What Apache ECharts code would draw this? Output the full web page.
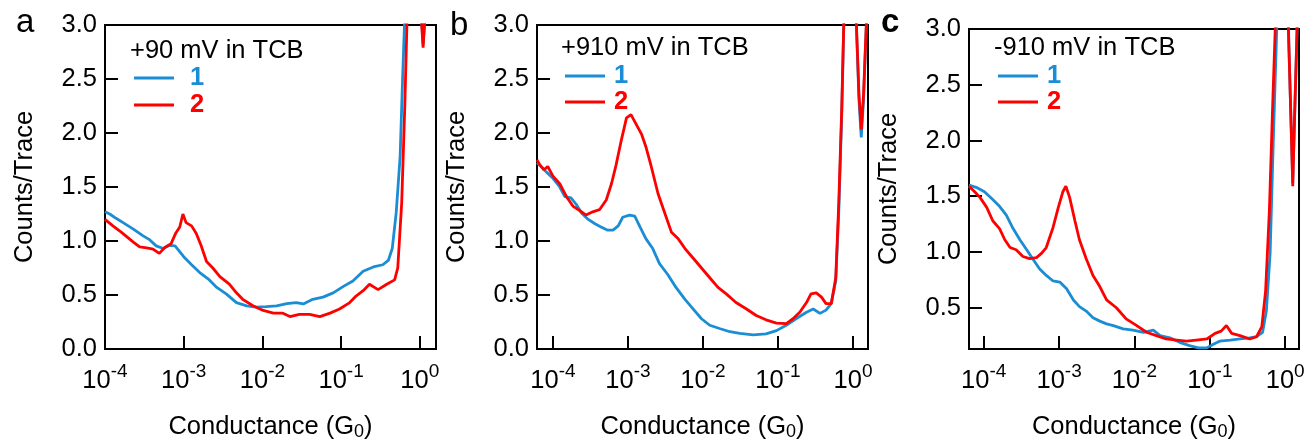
<!DOCTYPE html>
<html>
<head>
<meta charset="utf-8">
<title>Conductance histograms</title>
<script src="https://cdn.jsdelivr.net/npm/echarts@6/dist/echarts.min.js"></script>
<style>
  html, body { margin: 0; padding: 0; background: #fff; }
  #chart { width: 1308px; height: 446px; }
</style>
</head>
<body>
<div id="chart"></div>
<script>
// x values are log10(G / G0), y values are counts per trace
// values past 3.0 sit above the frame and get clipped, like the original plot

// panel a, +90 mV
const aBlueLogG = [-4.0, -3.94, -3.86, -3.77, -3.64, -3.52, -3.43, -3.35, -3.26, -3.18, -3.11, -3.0, -2.9, -2.8, -2.69, -2.58, -2.46, -2.33, -2.2, -2.08, -1.95, -1.82, -1.69, -1.57, -1.48, -1.36, -1.23, -1.1, -0.97, -0.85, -0.72, -0.59, -0.47, -0.4, -0.35, -0.3, -0.25, -0.22, -0.19, -0.1, 0.0, 0.042, 0.085, 0.206]
const aBlueCounts = [1.27, 1.25, 1.21, 1.17, 1.11, 1.05, 1.01, 0.955, 0.93, 0.96, 0.955, 0.855, 0.78, 0.71, 0.65, 0.57, 0.51, 0.43, 0.40, 0.387, 0.393, 0.40, 0.42, 0.43, 0.417, 0.46, 0.48, 0.52, 0.58, 0.63, 0.72, 0.76, 0.78, 0.82, 0.93, 1.26, 1.78, 2.47, 3.1, 5.0, 3.3, 2.82, 3.3, 5.0]
const aRedLogG = [-4.0, -3.9, -3.79, -3.64, -3.56, -3.47, -3.39, -3.31, -3.24, -3.16, -3.1, -3.05, -3.01, -2.97, -2.9, -2.84, -2.78, -2.71, -2.63, -2.54, -2.42, -2.33, -2.25, -2.12, -1.99, -1.86, -1.74, -1.65, -1.53, -1.4, -1.27, -1.14, -1.02, -0.89, -0.81, -0.72, -0.64, -0.53, -0.42, -0.32, -0.28, -0.23, -0.19, -0.16, -0.1, 0.0, 0.042, 0.085, 0.206]
const aRedCounts = [1.2, 1.14, 1.08, 0.99, 0.945, 0.937, 0.925, 0.885, 0.94, 0.976, 1.075, 1.13, 1.25, 1.17, 1.14, 1.07, 0.96, 0.81, 0.75, 0.67, 0.6, 0.52, 0.46, 0.4, 0.357, 0.332, 0.332, 0.3, 0.32, 0.32, 0.3, 0.332, 0.37, 0.43, 0.49, 0.54, 0.6, 0.55, 0.6, 0.64, 0.75, 1.35, 2.26, 3.1, 5.0, 3.3, 2.79, 3.3, 5.0]

// panel b, +910 mV
const bBlueLogG = [-4.213, -4.16, -4.09, -4.0, -3.91, -3.84, -3.76, -3.69, -3.62, -3.53, -3.44, -3.36, -3.27, -3.2, -3.13, -3.07, -2.98, -2.91, -2.84, -2.76, -2.67, -2.58, -2.47, -2.36, -2.24, -2.13, -2.02, -1.91, -1.78, -1.64, -1.51, -1.33, -1.16, -1.02, -0.89, -0.76, -0.62, -0.53, -0.44, -0.36, -0.29, -0.23, -0.19, -0.15, -0.12, -0.06, 0.03, 0.08, 0.11, 0.14, 0.2]
const bBlueCounts = [1.725, 1.69, 1.64, 1.58, 1.5, 1.41, 1.4, 1.34, 1.26, 1.2, 1.16, 1.13, 1.1, 1.1, 1.14, 1.22, 1.24, 1.23, 1.13, 1.02, 0.93, 0.79, 0.69, 0.57, 0.46, 0.37, 0.28, 0.22, 0.19, 0.16, 0.145, 0.13, 0.14, 0.17, 0.22, 0.28, 0.34, 0.37, 0.33, 0.36, 0.42, 0.63, 1.26, 2.17, 3.1, 5.0, 3.3, 2.3, 1.96, 2.3, 3.4]
const bRedLogG = [-4.213, -4.17, -4.12, -4.07, -4.0, -3.91, -3.82, -3.73, -3.64, -3.56, -3.47, -3.38, -3.29, -3.22, -3.16, -3.09, -3.02, -2.96, -2.89, -2.82, -2.76, -2.69, -2.6, -2.51, -2.42, -2.33, -2.24, -2.13, -2.02, -1.91, -1.8, -1.69, -1.56, -1.42, -1.29, -1.16, -1.02, -0.89, -0.8, -0.71, -0.62, -0.56, -0.49, -0.42, -0.36, -0.29, -0.23, -0.19, -0.15, -0.12, -0.06, 0.03, 0.08, 0.11, 0.14, 0.2]
const bRedCounts = [1.75, 1.7, 1.66, 1.69, 1.6, 1.53, 1.41, 1.32, 1.28, 1.24, 1.27, 1.29, 1.38, 1.53, 1.7, 1.93, 2.14, 2.17, 2.08, 1.99, 1.87, 1.69, 1.44, 1.26, 1.08, 1.02, 0.93, 0.84, 0.75, 0.66, 0.57, 0.51, 0.43, 0.37, 0.31, 0.27, 0.24, 0.235, 0.28, 0.34, 0.43, 0.51, 0.52, 0.48, 0.42, 0.42, 0.66, 1.35, 2.23, 3.1, 5.0, 3.3, 2.35, 2.03, 2.35, 3.4]

// panel c, -910 mV
const cBlueLogG = [-4.195, -4.1, -3.99, -3.88, -3.79, -3.7, -3.61, -3.52, -3.43, -3.35, -3.26, -3.17, -3.08, -2.99, -2.9, -2.81, -2.73, -2.64, -2.55, -2.46, -2.37, -2.28, -2.15, -2.02, -1.88, -1.75, -1.66, -1.53, -1.4, -1.27, -1.15, -1.04, -0.96, -0.87, -0.73, -0.6, -0.47, -0.38, -0.3, -0.25, -0.2, -0.16, -0.11, -0.05, 0.03, 0.08, 0.1, 0.12, 0.17, 0.183]
const cBlueCounts = [1.6, 1.58, 1.54, 1.47, 1.41, 1.33, 1.21, 1.11, 1.02, 0.94, 0.85, 0.79, 0.74, 0.73, 0.67, 0.57, 0.51, 0.47, 0.41, 0.38, 0.355, 0.34, 0.31, 0.3, 0.28, 0.3, 0.25, 0.23, 0.19, 0.16, 0.14, 0.14, 0.17, 0.2, 0.21, 0.22, 0.23, 0.24, 0.28, 0.47, 0.99, 1.95, 3.05, 5.0, 3.3, 2.1, 1.62, 2.1, 3.3, 3.6]
const cRedLogG = [-4.195, -4.12, -4.05, -3.96, -3.88, -3.79, -3.72, -3.65, -3.57, -3.48, -3.39, -3.3, -3.23, -3.17, -3.08, -3.01, -2.95, -2.91, -2.86, -2.79, -2.73, -2.64, -2.55, -2.46, -2.37, -2.24, -2.11, -1.97, -1.84, -1.71, -1.58, -1.44, -1.31, -1.18, -1.04, -0.93, -0.85, -0.78, -0.71, -0.6, -0.47, -0.38, -0.31, -0.26, -0.21, -0.17, -0.13, -0.05, 0.03, 0.08, 0.1, 0.12, 0.17, 0.183]
const cRedCounts = [1.59, 1.54, 1.49, 1.4, 1.28, 1.21, 1.11, 1.04, 1.02, 0.96, 0.94, 0.95, 0.99, 1.04, 1.22, 1.4, 1.54, 1.59, 1.49, 1.28, 1.11, 0.94, 0.79, 0.69, 0.57, 0.5, 0.4, 0.34, 0.28, 0.25, 0.22, 0.21, 0.2, 0.21, 0.22, 0.27, 0.29, 0.34, 0.27, 0.25, 0.22, 0.24, 0.33, 0.65, 1.37, 2.24, 3.05, 5.0, 3.3, 2.1, 1.59, 2.1, 3.3, 3.6]

const panelLetters = ['a', 'b', 'c']
const panelTitles = ['+90 mV in TCB', '+910 mV in TCB', '-910 mV in TCB']
const seriesNames = ['1', '2']
const xTickExponents = [-4, -3, -2, -1, 0]
const yTicksFull = [0, 0.5, 1, 1.5, 2, 2.5, 3]
const yTicksC = [0.5, 1, 1.5, 2, 2.5, 3]

const BLUE = '#1b8dd4'
const RED = '#ff0000'
const FONT = '"Liberation Sans", Arial, Helvetica, sans-serif'
const FS = 25.5

function zip(xs, ys) {
  return xs.map((x, i) => [x, ys[i]])
}

const panels = [
  {
    grid: { left: 105, top: 25, width: 331, height: 331 },
    xRange: [-4.0, 0.206], yRange: [0, 3], yTicks: yTicksFull,
    blue: zip(aBlueLogG, aBlueCounts), red: zip(aRedLogG, aRedCounts),
    letter: { left: 16, top: 6, fontWeight: 'normal' },
    title: { left: 130, top: 38 },
    legend: { left: 134, top: 65, itemGap: 1, textPad: 11 }
  },
  {
    grid: { left: 537, top: 25, width: 331, height: 331 },
    xRange: [-4.213, 0.2], yRange: [0, 3], yTicks: yTicksFull,
    blue: zip(bBlueLogG, bBlueCounts), red: zip(bRedLogG, bRedCounts),
    letter: { left: 450, top: 9, fontWeight: 'normal' },
    title: { left: 561, top: 35 },
    legend: { left: 565, top: 63, itemGap: 0, textPad: 4 }
  },
  {
    grid: { left: 969, top: 29, width: 330, height: 330 },
    xRange: [-4.195, 0.183], yRange: [0.13, 3], yTicks: yTicksC,
    blue: zip(cBlueLogG, cBlueCounts), red: zip(cRedLogG, cRedCounts),
    letter: { left: 881, top: 6, fontWeight: 'bold' },
    title: { left: 994, top: 35 },
    legend: { left: 998, top: 63, itemGap: 0, textPad: 4 }
  }
]

const axisLineStyle = { color: '#000', width: 2 }

const option = {
  animation: false,
  textStyle: { fontFamily: FONT },
  title: [],
  legend: [],
  grid: [],
  xAxis: [],
  yAxis: [],
  series: []
}

panels.forEach((p, i) => {
  option.grid.push(Object.assign({ show: true, borderColor: '#000', borderWidth: 2, containLabel: false }, p.grid))

  option.title.push({
    text: panelLetters[i],
    left: p.letter.left,
    top: p.letter.top,
    padding: 0,
    textStyle: { fontSize: 33, fontWeight: p.letter.fontWeight, color: '#000', fontFamily: FONT }
  })
  option.title.push({
    text: panelTitles[i],
    left: p.title.left,
    top: p.title.top,
    padding: 0,
    textStyle: { fontSize: FS, fontWeight: 'normal', color: '#000', fontFamily: FONT }
  })

  option.legend.push({
    orient: 'vertical',
    left: p.legend.left,
    top: p.legend.top,
    padding: 0,
    itemGap: p.legend.itemGap,
    itemWidth: 40,
    itemHeight: 3,
    icon: 'rect',
    selectedMode: false,
    textStyle: { fontSize: FS, fontWeight: 'bold', fontFamily: FONT, padding: [0, 0, 0, p.legend.textPad] },
    data: [
      { name: seriesNames[0], textStyle: { color: BLUE } },
      { name: seriesNames[1], textStyle: { color: RED } }
    ]
  })

  option.xAxis.push({
    gridIndex: i,
    type: 'value',
    min: p.xRange[0],
    max: p.xRange[1],
    name: '{n|Conductance (G}{s|0}{n|)}',
    nameLocation: 'middle',
    nameGap: 64,
    nameTextStyle: {
      rich: {
        n: { fontSize: FS, fontFamily: FONT, color: '#000' },
        s: { fontSize: 18, fontFamily: FONT, color: '#000', padding: [10, 0, 0, 0] }
      }
    },
    splitLine: { show: false },
    axisLine: { onZero: false, lineStyle: axisLineStyle },
    axisTick: { inside: true, length: 13, customValues: xTickExponents, lineStyle: axisLineStyle },
    axisLabel: {
      customValues: xTickExponents,
      margin: 13,
      formatter: v => '{b|10}{s|' + Math.round(v) + '}',
      rich: {
        b: { fontSize: FS, fontFamily: FONT, color: '#000', padding: [6, 0, 0, 0] },
        s: { fontSize: 19, fontFamily: FONT, color: '#000', verticalAlign: 'top' }
      }
    }
  })

  option.yAxis.push({
    gridIndex: i,
    type: 'value',
    min: p.yRange[0],
    max: p.yRange[1],
    name: 'Counts/Trace',
    nameLocation: 'middle',
    nameGap: 67,
    nameTextStyle: { fontSize: FS, color: '#000', fontFamily: FONT },
    splitLine: { show: false },
    axisLine: { onZero: false, lineStyle: axisLineStyle },
    axisTick: { inside: true, length: 13, customValues: p.yTicks, lineStyle: axisLineStyle },
    axisLabel: {
      customValues: p.yTicks,
      margin: 8,
      fontSize: FS,
      color: '#000',
      fontFamily: FONT,
      formatter: v => v.toFixed(1)
    }
  })

  option.series.push({
    name: seriesNames[0],
    type: 'line',
    xAxisIndex: i,
    yAxisIndex: i,
    data: p.blue,
    showSymbol: false,
    clip: true,
    color: BLUE,
    lineStyle: { color: BLUE, width: 2.8 }
  })
  option.series.push({
    name: seriesNames[1],
    type: 'line',
    xAxisIndex: i,
    yAxisIndex: i,
    data: p.red,
    showSymbol: false,
    clip: true,
    color: RED,
    lineStyle: { color: RED, width: 2.8 }
  })
})

const chart = echarts.init(document.getElementById('chart'))
chart.setOption(option)
</script>
</body>
</html>
